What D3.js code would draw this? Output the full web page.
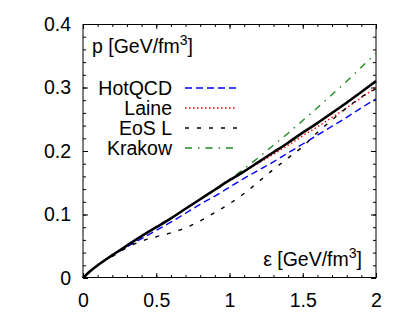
<!DOCTYPE html>
<html>
<head>
<meta charset="utf-8">
<script src="https://cdn.jsdelivr.net/npm/d3@7"></script>
<style>
  body { margin: 0; background: #fff; }
  svg { display: block; font-family: "Liberation Sans", Arial, sans-serif; }
</style>
</head>
<body>
<div id="chart"></div>
<script>
// energy density grid [GeV/fm^3]
const eps = [0, 0.05, 0.1, 0.2, 0.3, 0.4, 0.5, 0.6, 0.7, 0.8, 0.9, 1.0,
             1.1, 1.2, 1.3, 1.4, 1.5, 1.6, 1.7, 1.8, 1.9, 2.0];

// pressure values [GeV/fm^3]
const pMain = [0, 0.011, 0.020, 0.036, 0.051, 0.066, 0.080, 0.094, 0.109, 0.124, 0.139, 0.154,
               0.168, 0.183, 0.198, 0.213, 0.229, 0.244, 0.260, 0.276, 0.293, 0.310];
const pHotQCD = [0, 0.011, 0.020, 0.035, 0.049, 0.062, 0.075, 0.088, 0.102, 0.116, 0.129, 0.143,
                 0.157, 0.170, 0.183, 0.197, 0.211, 0.225, 0.239, 0.253, 0.268, 0.282];
const pLaine = [0, 0.011, 0.020, 0.036, 0.051, 0.066, 0.080, 0.094, 0.109, 0.124, 0.139, 0.154,
                0.168, 0.181, 0.195, 0.209, 0.224, 0.238, 0.253, 0.268, 0.284, 0.300];
const pEosL = [0, 0.011, 0.020, 0.034, 0.048, 0.058, 0.065, 0.071, 0.079, 0.090, 0.103, 0.117,
               0.133, 0.152, 0.171, 0.189, 0.207, 0.229, 0.249, 0.268, 0.285, 0.298];
const pKrakow = [0, 0.011, 0.020, 0.036, 0.051, 0.066, 0.080, 0.094, 0.109, 0.124, 0.139, 0.155,
                 0.172, 0.190, 0.209, 0.228, 0.248, 0.268, 0.289, 0.310, 0.332, 0.354];

const xTicks = [0, 0.5, 1, 1.5, 2];
const xTickLabels = ['0', '0.5', '1', '1.5', '2'];
const yTicks = [0, 0.1, 0.2, 0.3, 0.4];
const yTickLabels = ['0', '0.1', '0.2', '0.3', '0.4'];

const width = 409;
const height = 319;
const margin = {top: 24, right: 33, bottom: 41, left: 83};
const fontSize = 19.5;

const svg = d3.select('#chart')
    .append('svg')
    .attr('width', width)
    .attr('height', height);

svg.append('rect').attr('width', width).attr('height', height).attr('fill', '#fff');

const xScale = d3.scaleLinear().domain([0, 2]).range([margin.left, width - margin.right]);
const yScale = d3.scaleLinear().domain([0, 0.4]).range([height - margin.bottom, margin.top]);

// minor ticks on all four sides, pointing inward
const xMinor = d3.range(0, 2.0001, 0.1);
const yMinor = d3.range(0, 0.40001, 0.02);

function addAxis(axis, transform) {
    const g = svg.append('g').attr('transform', transform).call(axis);
    g.select('.domain').remove();
    g.selectAll('line').attr('stroke', '#000');
    return g;
}

const bottom = height - margin.bottom;
const right = width - margin.right;

addAxis(d3.axisBottom(xScale).tickValues(xMinor).tickSize(-3).tickFormat(''), `translate(0,${bottom})`);
addAxis(d3.axisTop(xScale).tickValues(xMinor).tickSize(-3).tickFormat(''), `translate(0,${margin.top})`);
addAxis(d3.axisLeft(yScale).tickValues(yMinor).tickSize(-3).tickFormat(''), `translate(${margin.left},0)`);
addAxis(d3.axisRight(yScale).tickValues(yMinor).tickSize(-3).tickFormat(''), `translate(${right},0)`);

// major ticks with labels
const xAxis = addAxis(
    d3.axisBottom(xScale).tickValues(xTicks).tickSize(-5).tickPadding(15)
      .tickFormat((d, i) => xTickLabels[i]),
    `translate(0,${bottom})`);
const yAxis = addAxis(
    d3.axisLeft(yScale).tickValues(yTicks).tickSize(-5).tickPadding(12)
      .tickFormat((d, i) => yTickLabels[i]),
    `translate(${margin.left},0)`);
addAxis(d3.axisTop(xScale).tickValues(xTicks).tickSize(-5).tickFormat(''), `translate(0,${margin.top})`);
addAxis(d3.axisRight(yScale).tickValues(yTicks).tickSize(-5).tickFormat(''), `translate(${right},0)`);

[xAxis, yAxis].forEach((g) => {
    g.attr('font-family', null).attr('font-size', null);
    g.selectAll('text')
        .attr('fill', '#000')
        .style('font-size', fontSize + 'px');
});

// frame
svg.append('rect')
    .attr('x', margin.left)
    .attr('y', margin.top + 0.5)
    .attr('width', right - margin.left)
    .attr('height', bottom - margin.top - 1)
    .attr('fill', 'none')
    .attr('stroke', '#000')
    .attr('stroke-width', 1);

// curves
const series = [
    {name: 'HotQCD', values: pHotQCD, color: '#0000ff', width: 1.4, dash: '7,4'},
    {name: 'Laine', values: pLaine, color: '#ff0000', width: 1.4, dash: '1.5,2.5'},
    {name: 'EoS L', values: pEosL, color: '#000', width: 1.4, dash: '4,8'},
    {name: 'Krakow', values: pKrakow, color: '#1f8a1f', width: 1.4, dash: '7,6,1.5,6'},
];

const line = d3.line()
    .x((d) => xScale(d[0]))
    .y((d) => yScale(d[1]))
    .curve(d3.curveMonotoneX);

const curves = svg.append('g').attr('class', 'curves');

series.forEach((s) => {
    curves.append('path')
        .datum(eps.map((e, i) => [e, s.values[i]]))
        .attr('d', line)
        .attr('fill', 'none')
        .attr('stroke', s.color)
        .attr('stroke-width', s.width)
        .attr('stroke-dasharray', s.dash);
});

// thick black reference curve (no legend entry)
curves.append('path')
    .datum(eps.map((e, i) => [e, pMain[i]]))
    .attr('d', line)
    .attr('fill', 'none')
    .attr('stroke', '#000')
    .attr('stroke-width', 2.6);

// legend
const legend = svg.append('g').attr('class', 'legend');
series.forEach((s, i) => {
    const y = 88 + i * 20;
    legend.append('text')
        .attr('x', 172)
        .attr('y', y)
        .attr('dy', '0.35em')
        .attr('text-anchor', 'end')
        .style('font-size', fontSize + 'px')
        .text(s.name);
    legend.append('line')
        .attr('x1', 185).attr('x2', 237)
        .attr('y1', y).attr('y2', y)
        .attr('stroke', s.color)
        .attr('stroke-width', s.width)
        .attr('stroke-dasharray', s.dash);
});

// axis titles
const yTitle = svg.append('text')
    .attr('x', 92)
    .attr('y', 53)
    .style('font-size', fontSize + 'px');
yTitle.append('tspan').text('p [GeV/fm');
yTitle.append('tspan').attr('dy', -8).style('font-size', '14px').text('3');
yTitle.append('tspan').attr('dy', 8).text(']');

const xTitle = svg.append('text')
    .attr('x', 362)
    .attr('y', 266)
    .attr('text-anchor', 'end')
    .style('font-size', fontSize + 'px');
xTitle.append('tspan').text('ε [GeV/fm');
xTitle.append('tspan').attr('dy', -8).style('font-size', '14px').text('3');
xTitle.append('tspan').attr('dy', 8).text(']');
</script>
</body>
</html>
